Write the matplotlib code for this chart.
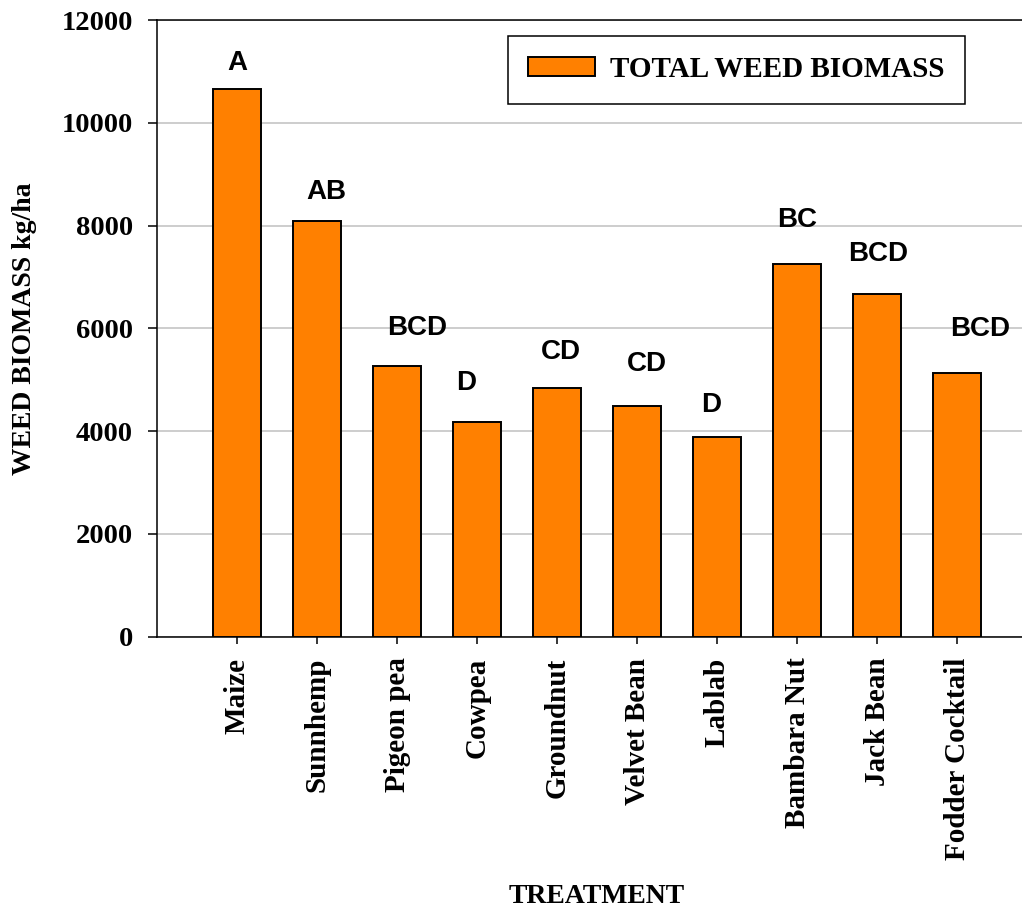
"""
Total weed biomass by treatment
"""

import matplotlib
matplotlib.use("Agg")
import matplotlib.pyplot as plt

# ==========================================================
# Data
# ==========================================================

treatments = [
    "Maize", "Sunnhemp", "Pigeon pea", "Cowpea", "Groundnut",
    "Velvet Bean", "Lablab", "Bambara Nut", "Jack Bean", "Fodder Cocktail"
]

biomass = [10650, 8095, 5262, 4178, 4839, 4495, 3880, 7258, 6669, 5131]

letters = ["A", "AB", "BCD", "D", "CD", "CD", "D", "BC", "BCD", "BCD"]

yticks = [0, 2000, 4000, 6000, 8000, 10000, 12000]

# label nudges (pixels): dx, dy above bar top
label_dx = [0, 9, 20, -11, 4, 10, -6, 0, 1, 23]
label_dy = [26, 29, 38, 39, 36, 42, 32, 44, 40, 44]

serif = ["Liberation Serif", "DejaVu Serif"]
sans = ["Liberation Sans", "DejaVu Sans"]

# ==========================================================
# Figure
# ==========================================================

W, H = 1022, 909
fig = plt.figure(figsize=(W / 100, H / 100), dpi=100)

left, right = 157, 1037
top, bottom = 20, 636.7
ax = fig.add_axes([left / W, 1 - bottom / H, (right - left) / W, (bottom - top) / H])

x = list(range(len(treatments)))

ax.bar(x, biomass, width=0.6, color="#FF8000", edgecolor="black",
       linewidth=1.4, label="TOTAL WEED BIOMASS", zorder=3)

ax.set_xlim(-1, 10)
ax.set_ylim(0, 12000)
ax.set_yticks(yticks)
ax.set_xticks(x)

ax.yaxis.grid(True, color="#c0c0c0", linewidth=1.1, zorder=0)
ax.set_axisbelow(True)

for s in ["left", "bottom", "top"]:
    ax.spines[s].set_linewidth(1.1)
ax.spines["right"].set_visible(False)

ax.set_yticklabels([str(v) for v in yticks], fontfamily=serif,
                   fontweight="bold", fontsize=20.5)
ax.set_xticklabels(treatments, rotation=90, fontfamily=serif,
                   fontweight="bold", fontsize=21)

ax.tick_params(axis="y", length=6.5, width=1.1, pad=11)
ax.tick_params(axis="x", length=5, width=1.1, pad=10)

# significance letters
for i, (val, lab) in enumerate(zip(biomass, letters)):
    ax.annotate(lab, (i, val),
                xytext=(label_dx[i] * 0.72, label_dy[i] * 0.72),
                textcoords="offset points", ha="center", va="center",
                fontfamily=sans, fontweight="bold", fontsize=20)

# axis labels
ax.set_ylabel("WEED BIOMASS kg/ha", fontfamily=serif,
              fontweight="bold", fontsize=20)
ax.yaxis.set_label_coords(-0.136, 0.5)

ax.set_xlabel("TREATMENT", fontfamily=serif, fontweight="bold", fontsize=20)
ax.xaxis.set_label_coords(0.5, -0.401)

# legend
leg = ax.legend(loc="upper left",
                bbox_to_anchor=(507.7 / W, 1 - 35.7 / H),
                bbox_transform=fig.transFigure,
                prop={"family": serif, "weight": "bold", "size": 21},
                fancybox=False, shadow=False, framealpha=1,
                borderpad=0.7, handlelength=2.3, handleheight=0.62,
                handletextpad=0.5, borderaxespad=0)
leg.get_frame().set_edgecolor("black")
leg.get_frame().set_linewidth(1.1)

fig.savefig("out.png", dpi=100)
